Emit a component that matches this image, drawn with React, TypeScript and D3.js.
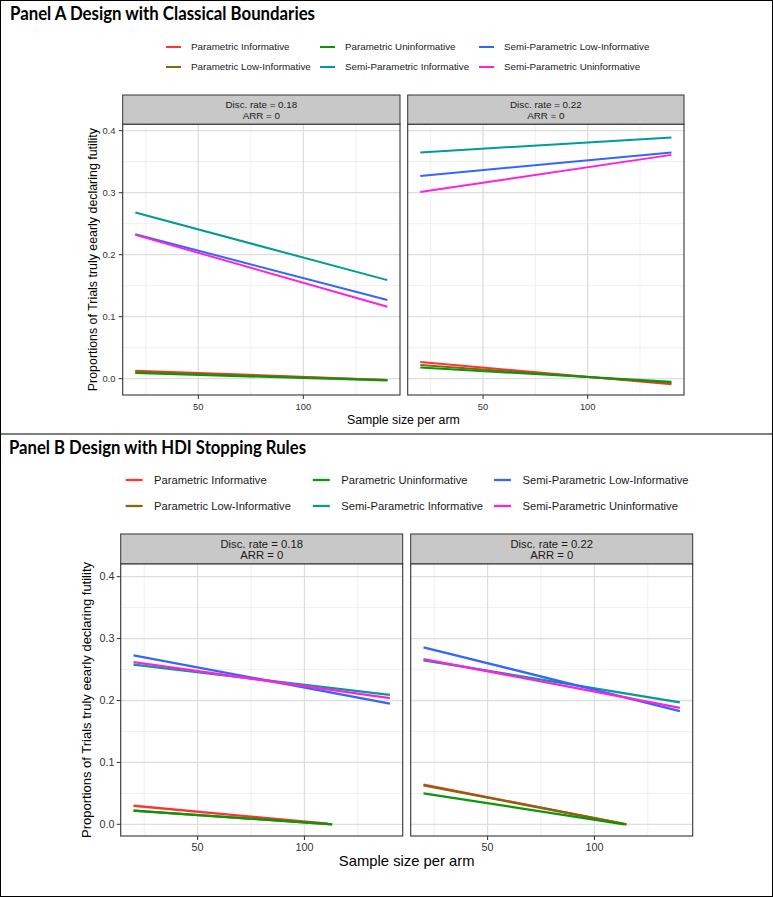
import * as d3 from "d3";
import * as React from "react";

const seriesNames = [
  "Parametric Informative",
  "Parametric Low-Informative",
  "Parametric Uninformative",
  "Semi-Parametric Informative",
  "Semi-Parametric Low-Informative",
  "Semi-Parametric Uninformative",
];
const seriesColors = ["#FF3333", "#8B6508", "#0A960A", "#009B9B", "#3366FF", "#FF22DD"];

const facetLabels = ["Disc. rate = 0.18", "Disc. rate = 0.22"];
const arrLabel = "ARR = 0";
const xTicks = [50, 100];
const xMinor = [25, 75, 125];
const yTicks = [0, 0.1, 0.2, 0.3, 0.4];
const yMinor = [0.05, 0.15, 0.25, 0.35];
const xDomain = [14, 146];
const nStart = 20;

// Panel A (classical boundaries): fitted lines from n = 20 to n = 140
const aLowStart = [0.013, 0.011, 0.009, 0.268, 0.233, 0.232];
const aLowEnd = [-0.002, -0.002, -0.003, 0.159, 0.127, 0.116];
const aLowEndN = [140, 140, 140, 140, 140, 140];
const aHighStart = [0.027, 0.022, 0.018, 0.365, 0.327, 0.301];
const aHighEnd = [-0.009, -0.007, -0.005, 0.389, 0.365, 0.361];
const aHighEndN = [140, 140, 140, 140, 140, 140];

// Panel B (HDI stopping rules): parametric lines stop where they hit 0
const bLowStart = [0.03, 0.022, 0.022, 0.258, 0.273, 0.262];
const bLowEnd = [0.001, 0, 0, 0.209, 0.195, 0.204];
const bLowEndN = [111, 113, 113, 140, 140, 140];
const bHighStart = [0.064, 0.063, 0.05, 0.265, 0.286, 0.267];
const bHighEnd = [0, 0, 0, 0.197, 0.183, 0.188];
const bHighEndN = [115, 115, 114, 140, 140, 140];

const FONT = "'Liberation Sans', Arial, sans-serif";

const layoutA = {
  title: "Panel A Design with Classical Boundaries",
  titleX: 10, titleY: 20, titleSize: 19.5, titleW: 305,
  legendY: [47, 67], legendKeyX: [166, 320, 479], keyW: 15, textGap: 25, legendSize: 9.8,
  stripTop: 95, panelTop: 124.3, panelBottom: 395,
  facetX: [[122.7, 400], [407.7, 684]],
  stripSize: 9.8, stripLines: [105, 115.5],
  yDomain: [-0.0263, 0.4103],
  tickSize: 9.4, yLabelRight: 115.5, tickLen: 4, xLabelY: 406.5,
  xTitleY: 420, xTitleSize: 12.3, yTitleX: 93, yTitleSize: 12.4, lineW: 2,
};

const layoutB = {
  title: "Panel B Design with HDI Stopping Rules",
  titleX: 9, titleY: 454, titleSize: 19.5, titleW: 297,
  legendY: [480, 506], legendKeyX: [125.6, 312.8, 494], keyW: 17, textGap: 28.5, legendSize: 11.2,
  stripTop: 534, panelTop: 564, panelBottom: 836,
  facetX: [[120.7, 402.7], [410.7, 692.7]],
  stripSize: 11.3, stripLines: [544.3, 555.5],
  yDomain: [-0.0189, 0.4205],
  tickSize: 10.8, yLabelRight: 114.5, tickLen: 4, xLabelY: 847,
  xTitleY: 861, xTitleSize: 14.8, yTitleX: 86.7, yTitleSize: 13, lineW: 2.3,
};

type Facet = { start: number[]; end: number[]; endN: number[] };

function Panel({ L, facets, id }: { L: any; facets: Facet[]; id: string }) {
  const first = L.facetX[0][0];
  const last = L.facetX[L.facetX.length - 1][1];
  const yMid = (L.panelTop + L.panelBottom) / 2;
  return (
    <g>
      <text
        x={L.titleX}
        y={L.titleY}
        fontFamily="Lato, 'Open Sans', sans-serif"
        fontWeight={700}
        fontSize={L.titleSize}
        textLength={L.titleW}
        lengthAdjust="spacingAndGlyphs"
        fill="#000"
      >
        {L.title}
      </text>

      {/* legend, 2 rows filled column by column */}
      {seriesNames.map((name, i) => {
        const col = Math.floor(i / 2);
        const row = i % 2;
        const kx = L.legendKeyX[col];
        const ky = L.legendY[row];
        return (
          <g key={name}>
            <line x1={kx} x2={kx + L.keyW} y1={ky} y2={ky} stroke={seriesColors[i]} strokeWidth={L.lineW} />
            <text x={kx + L.textGap} y={ky} dy="0.35em" fontFamily={FONT} fontSize={L.legendSize} fill="#1A1A1A">
              {name}
            </text>
          </g>
        );
      })}

      {facets.map((f, fi) => {
        const [l, r] = L.facetX[fi];
        const x = d3.scaleLinear().domain(xDomain).range([l, r]);
        const y = d3.scaleLinear().domain(L.yDomain).range([L.panelBottom, L.panelTop]);
        const line = d3
          .line<[number, number]>()
          .x((d) => x(d[0]))
          .y((d) => y(d[1]));
        const cx = (l + r) / 2;
        return (
          <g key={fi}>
            <defs>
              <clipPath id={`${id}-clip-${fi}`}>
                <rect x={l} y={L.panelTop} width={r - l} height={L.panelBottom - L.panelTop} />
              </clipPath>
            </defs>
            {/* strip */}
            <rect x={l} y={L.stripTop} width={r - l} height={L.panelTop - L.stripTop} fill="#C8C8C8" stroke="#333" strokeWidth={1} />
            <text x={cx} y={L.stripLines[0]} dy="0.35em" textAnchor="middle" fontFamily={FONT} fontSize={L.stripSize} fill="#1A1A1A">
              {facetLabels[fi]}
            </text>
            <text x={cx} y={L.stripLines[1]} dy="0.35em" textAnchor="middle" fontFamily={FONT} fontSize={L.stripSize} fill="#1A1A1A">
              {arrLabel}
            </text>
            {/* panel */}
            <rect x={l} y={L.panelTop} width={r - l} height={L.panelBottom - L.panelTop} fill="#fff" />
            <g clipPath={`url(#${id}-clip-${fi})`}>
              {yMinor.map((v) => (
                <line key={"ym" + v} x1={l} x2={r} y1={y(v)} y2={y(v)} stroke="#EBEBEB" strokeWidth={0.8} />
              ))}
              {xMinor.map((v) => (
                <line key={"xm" + v} x1={x(v)} x2={x(v)} y1={L.panelTop} y2={L.panelBottom} stroke="#EBEBEB" strokeWidth={0.8} />
              ))}
              {yTicks.map((v) => (
                <line key={"yM" + v} x1={l} x2={r} y1={y(v)} y2={y(v)} stroke="#DEDEDE" strokeWidth={1.3} />
              ))}
              {xTicks.map((v) => (
                <line key={"xM" + v} x1={x(v)} x2={x(v)} y1={L.panelTop} y2={L.panelBottom} stroke="#DEDEDE" strokeWidth={1.3} />
              ))}
              {seriesNames.map((name, i) => (
                <path
                  key={name}
                  d={line([
                    [nStart, f.start[i]],
                    [f.endN[i], f.end[i]],
                  ]) as string}
                  fill="none"
                  stroke={seriesColors[i]}
                  strokeWidth={L.lineW}
                />
              ))}
            </g>
            <rect x={l} y={L.panelTop} width={r - l} height={L.panelBottom - L.panelTop} fill="none" stroke="#333" strokeWidth={1.1} />
            {/* x axis */}
            {xTicks.map((v) => (
              <g key={"xt" + v}>
                <line x1={x(v)} x2={x(v)} y1={L.panelBottom} y2={L.panelBottom + L.tickLen} stroke="#333" strokeWidth={1} />
                <text x={x(v)} y={L.xLabelY} dy="0.35em" textAnchor="middle" fontFamily={FONT} fontSize={L.tickSize} fill="#333">
                  {v}
                </text>
              </g>
            ))}
            {/* y axis only on the first facet */}
            {fi === 0 &&
              yTicks.map((v) => (
                <g key={"yt" + v}>
                  <line x1={l - L.tickLen} x2={l} y1={y(v)} y2={y(v)} stroke="#333" strokeWidth={1} />
                  <text x={L.yLabelRight} y={y(v)} dy="0.35em" textAnchor="end" fontFamily={FONT} fontSize={L.tickSize} fill="#333">
                    {d3.format(".1f")(v)}
                  </text>
                </g>
              ))}
          </g>
        );
      })}

      <text x={(first + last) / 2} y={L.xTitleY} dy="0.35em" textAnchor="middle" fontFamily={FONT} fontSize={L.xTitleSize} fill="#000">
        Sample size per arm
      </text>
      <text
        transform={`translate(${L.yTitleX},${yMid}) rotate(-90)`}
        dy="0.35em"
        textAnchor="middle"
        fontFamily={FONT}
        fontSize={L.yTitleSize}
        fill="#000"
      >
        Proportions of Trials truly eearly declaring futility
      </text>
    </g>
  );
}

export default function App() {
  React.useEffect(() => {
    document.body.style.margin = "0";
  }, []);
  const facetsA: Facet[] = [
    { start: aLowStart, end: aLowEnd, endN: aLowEndN },
    { start: aHighStart, end: aHighEnd, endN: aHighEndN },
  ];
  const facetsB: Facet[] = [
    { start: bLowStart, end: bLowEnd, endN: bLowEndN },
    { start: bHighStart, end: bHighEnd, endN: bHighEndN },
  ];
  return (
    <svg width={773} height={897} style={{ display: "block", position: "absolute", left: 0, top: 0 }}>
      <rect x={0} y={0} width={773} height={897} fill="#fff" />
      <Panel L={layoutA} facets={facetsA} id="pa" />
      <line x1={0} x2={773} y1={434} y2={434} stroke="#000" strokeWidth={1.2} />
      <Panel L={layoutB} facets={facetsB} id="pb" />
      <rect x={0.5} y={0.5} width={772} height={896} fill="none" stroke="#000" strokeWidth={1} />
    </svg>
  );
}
